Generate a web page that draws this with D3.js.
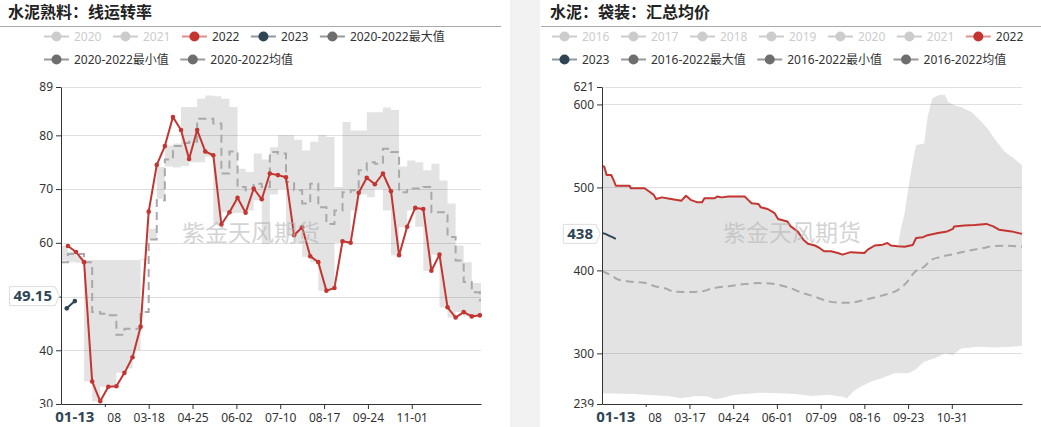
<!DOCTYPE html>
<html><head><meta charset="utf-8">
<script src="https://cdn.jsdelivr.net/npm/d3@7"></script>
<style>
body{margin:0;background:#fff;}
svg{display:block;font-family:"Noto Sans","Noto Sans CJK SC",sans-serif;}
</style></head><body>
<svg id="c" width="1041" height="427"></svg>
<script>
// ---------------- Chart 1: 水泥熟料：线运转率 (weekly) ----------------
const clinkerTitle = "水泥熟料：线运转率";
const clinkerXTicks = ["02-08","03-18","04-25","06-02","07-10","08-17","09-24","11-01"];
const clinkerYTicks = [30,40,50,60,70,80,89];
const clinkerDates = ["01-07","01-14","01-21","01-28","02-04","02-11","02-18","02-25","03-04","03-11","03-18","03-25","04-01","04-08","04-15","04-22","04-29","05-06","05-13","05-20","05-27","06-03","06-10","06-17","06-24","07-01","07-08","07-15","07-22","07-29","08-05","08-12","08-19","08-26","09-02","09-09","09-16","09-23","09-30","10-07","10-14","10-21","10-28","11-04","11-11","11-18","11-25","12-02","12-09","12-16","12-23","12-30"];
const clinker2022 = [59.4,58.3,56.4,34.2,30.5,33.2,33.3,35.8,38.7,44.4,65.8,74.5,78.0,83.4,81.0,75.6,81.0,77.0,76.3,63.4,65.7,68.4,65.6,70.1,68.1,72.9,72.6,72.2,61.4,62.9,57.5,56.4,51.1,51.6,60.3,60.0,69.3,72.1,70.9,72.9,69.6,57.7,63.0,66.5,66.3,54.8,57.8,48.0,46.1,47.1,46.3,46.5];
const clinker2023Dates = ["01-06","01-13"];
const clinker2023 = [47.8,49.15];
const clinkerBandDates = ["01-01"].concat(clinkerDates, ["12-31"]);
const clinkerMax = [59.4,58.4,57.5,56.8,56.8,56.8,56.8,56.8,56.8,56.8,56.8,60.6,68.2,78.1,78.5,85.3,85.3,86.8,87.4,87.3,86.8,85.3,73.8,73.2,76.6,75.5,77.8,80.0,80.0,79.2,77.2,78.8,80.0,79.7,70.4,82.5,80.9,80.9,84.3,84.3,85.2,84.7,74.2,75.3,75.0,73.5,74.7,71.6,67.3,59.5,56.4,52.5,52.5,52.5];
const clinkerMin = [53.2,56.7,56.4,56.3,34.2,30.5,33.2,33.3,35.8,36.6,40.0,57.0,62.6,74.1,74.2,74.0,74.3,75.0,75.0,76.0,63.4,65.7,65.5,65.6,66.0,67.9,59.8,69.0,70.0,61.4,60.0,57.4,56.4,51.1,51.6,60.0,60.0,66.0,69.0,68.5,70.0,66.0,57.7,62.9,66.0,63.0,54.8,57.8,48.0,46.1,47.1,46.3,46.5,46.5];
const clinkerMean = [56.4,57.9,57.9,56.4,47.1,46.8,46.5,42.9,44.0,44.0,47.1,60.6,67.9,75.5,78.0,78.6,78.8,83.1,83.1,82.2,72.9,77.0,70.4,69.8,71.0,70.4,76.9,76.6,71.3,69.8,67.3,71.0,66.6,63.5,66.0,69.4,69.8,73.5,75.0,74.7,77.5,76.9,69.4,70.1,70.1,70.4,65.7,65.7,61.1,56.7,52.7,50.8,49.3,49.3];
const clinkerLegendRows = [["2020","2021","2022","2023","2020-2022最大值"],["2020-2022最小值","2020-2022均值"]];

// ---------------- Chart 2: 水泥：袋装：汇总均价 (daily) ----------------
const bagTitle = "水泥：袋装：汇总均价";
const bagXTicks = ["02-08","03-17","04-24","06-01","07-09","08-16","09-23","10-31"];
const bagYTicks = [239,300,400,500,600,621];
const bag2022Dates = ["01-01","01-03","01-05","01-09","01-11","01-13","01-25","01-26","02-07","02-11","02-15","02-17","02-22","03-01","03-10","03-14","03-18","03-24","03-28","03-30","04-08","04-10","04-14","04-20","05-04","05-07","05-10","05-16","05-18","05-24","05-30","06-02","06-10","06-13","06-19","06-24","06-28","07-04","07-08","07-12","07-18","07-24","07-28","08-04","08-16","08-19","08-25","09-01","09-05","09-08","09-14","09-20","09-27","09-30","10-06","10-09","10-19","10-27","11-01","11-02","11-11","11-20","11-30","12-06","12-11","12-22","12-31"];
const bag2022 = [526,525,515,515,509,502,502,499,499,495,491,486,488,486,484,490,485,482,482,487,487,489,488,489,489,485,481,480,476,474,469,462,459,453,447,437,432,430,427,423,423,421,419,422,421,425,430,431,433,430,429,428.5,430.5,439,440,442,445,447,450,453,454,454.6,456,453,449,447,444];
const bag2023Dates = ["01-01","01-04","01-07","01-10","01-13"];
const bag2023 = [445,444,442,440,438];
// max equals 2022 up to 09-14, then the 2016-2022 max:
const bagMaxSince = "09-14";
const bagMaxTailDates = ["09-17","09-20","09-23","09-26","09-30","10-07","10-10","10-14","10-19","10-25","10-28","11-02","11-08","11-17","11-23","12-01","12-07","12-16","12-22","12-31"];
const bagMaxTail = [452,469,497,523,551,553,585,607,611,612,603,599,597,591,583,571,559,543,537,527];
const bagMinDates = ["01-01","01-28","02-07","02-27","03-10","03-22","04-02","04-08","04-14","04-25","05-19","06-02","06-17","07-01","07-15","07-27","08-01","08-06","08-13","08-22","08-31","09-11","09-23","09-29","10-07","10-16","10-25","11-01","11-08","11-23","12-07","12-22","12-31"];
const bagMin = [252,251,250,248.6,246,248.6,248,244.6,246,250,252.6,252,251,248.6,250,248,245.8,253.8,260,266,270,276,276,280,290,294,300,298,306,308,307,308,309];
const bagMeanDates = ["01-01","01-09","01-15","01-27","02-07","02-16","02-25","03-04","03-16","03-28","04-05","04-20","05-04","05-16","05-30","06-11","06-22","07-04","07-15","07-27","08-04","08-13","08-25","09-05","09-14","09-21","09-29","10-07","10-13","10-22","11-02","11-14","11-26","12-07","12-19","12-31"];
const bagMean = [399,394,389,386.3,385,381,378.3,374.3,374,374.7,378,381,383.5,384.7,383.5,379.5,373.5,368.3,363,361,361,363.5,367.5,371.5,376.3,384.3,398.4,404.4,412.4,416.5,419.7,423.7,426.5,429.3,429.7,428.5];
const bagLegendRows = [["2016","2017","2018","2019","2020","2021","2022"],["2023","2016-2022最大值","2016-2022最小值","2016-2022均值"]];

const pointerDate = "01-13";
const watermark = "紫金天风期货";

// ---------------- helpers ----------------
const C22 = "#c23531", C23 = "#2f4554", CSTAT = "#6e6e6e", COFF = "#ccc";
const pad = n => String(n).padStart(2, "0");
function calendar(leap){const ml=[31,leap?29:28,31,30,31,30,31,31,30,31,30,31];const o=[];ml.forEach((n,m)=>{for(let d=1;d<=n;d++)o.push(pad(m+1)+"-"+pad(d));});return o;}
const zip = (ds, vs) => ds.map((d, i) => ({c: d, v: vs[i]}));
const svg = d3.select("#c");
const FONT = '"Noto Sans","Noto Sans CJK SC",sans-serif';

// panels
svg.append("rect").attr("x",0).attr("y",0).attr("width",1041).attr("height",427).attr("fill","#fff");
svg.append("rect").attr("x",510).attr("y",0).attr("width",30).attr("height",427).attr("fill","#f2f2f2");

function legendColor(name){
  if (/20\d\d-20\d\d/.test(name)) return {c: CSTAT, on: true};
  if (name === "2022") return {c: C22, on: true};
  if (name === "2023") return {c: C23, on: true};
  return {c: COFF, on: false};
}

function drawLegend(rows, x0, ys){
  rows.forEach((row, ri) => {
    let cx = x0; const y = ys[ri];
    row.forEach(name => {
      const lc = legendColor(name);
      const g = svg.append("g");
      g.append("line").attr("x1", cx).attr("x2", cx + 25).attr("y1", y).attr("y2", y)
        .attr("stroke", lc.on ? (lc.c === CSTAT ? "#999" : lc.c) : COFF)
        .attr("stroke-opacity", lc.on && lc.c !== CSTAT ? 0.55 : 1).attr("stroke-width", 2);
      g.append("circle").attr("cx", cx + 12.5).attr("cy", y).attr("r", 5).attr("fill", lc.c);
      const t = g.append("text").attr("x", cx + 30).attr("y", y).attr("dy", "0.35em")
        .attr("font-size", 12).attr("fill", lc.on ? "#333" : COFF).text(name);
      cx += 30 + t.node().getComputedTextLength() + 11.5;
    });
  });
}

function drawPanel(o){
  const x = d3.scalePoint().domain(o.cats).range([o.left, o.right]);
  const y = d3.scaleLinear().domain(o.yDomain).range([o.bottom, o.top]);
  const g = svg.append("g");

  // title + rule
  g.append("text").attr("x", o.titleX).attr("y", 17.5).attr("font-size", 16).attr("font-weight", 700)
    .attr("font-family", '"Noto Sans CJK SC",sans-serif').attr("fill", "#222").text(o.title);
  g.append("line").attr("x1", o.ruleX0).attr("x2", o.ruleX1).attr("y1", 26.5).attr("y2", 26.5).attr("stroke", "#aaa");

  // grid
  g.append("g").selectAll("line").data(o.yTicks.filter(v => v !== o.yDomain[0])).join("line")
    .attr("x1", o.left).attr("x2", o.right)
    .attr("y1", d => Math.round(y(d)) + 0.5).attr("y2", d => Math.round(y(d)) + 0.5)
    .attr("stroke", "#e0e0e0");

  const clipId = "clip" + o.left;
  svg.append("clipPath").attr("id", clipId).append("rect")
    .attr("x", o.left).attr("y", o.top - 2).attr("width", o.right - o.left + 1).attr("height", o.bottom - o.top + 2);
  const p = g.append("g").attr("clip-path", `url(#${clipId})`);

  // band
  const lineFor = curve => d3.line().x(d => x(d.c)).y(d => y(d.v)).curve(curve);
  const top = o.bandTop, bot = o.bandBot;
  const topPath = lineFor(o.bandCurve)(top);
  const botPath = lineFor(o.bandCurve)(bot.slice().reverse());
  p.append("path").attr("d", topPath + "L" + botPath.slice(1) + "Z")
    .attr("fill", "#000").attr("fill-opacity", 0.11).attr("stroke", "none");

  // mean
  p.append("path").attr("d", lineFor(o.meanCurve)(o.mean)).attr("fill", "none")
    .attr("stroke", "#a9a9a9").attr("stroke-width", 2).attr("stroke-dasharray", "8,5");

  // 2022
  p.append("path").attr("d", lineFor(d3.curveLinear)(o.s22)).attr("fill", "none")
    .attr("stroke", C22).attr("stroke-width", 2).attr("stroke-linejoin", "round");
  if (o.markers) p.append("g").selectAll("circle").data(o.s22).join("circle")
    .attr("cx", d => x(d.c)).attr("cy", d => y(d.v)).attr("r", 2.3).attr("fill", C22);

  // 2023
  p.append("path").attr("d", lineFor(d3.curveLinear)(o.s23)).attr("fill", "none")
    .attr("stroke", C23).attr("stroke-width", 2);
  if (o.markers) p.append("g").selectAll("circle").data(o.s23).join("circle")
    .attr("cx", d => x(d.c)).attr("cy", d => y(d.v)).attr("r", 2.3).attr("fill", C23);

  // watermark
  g.append("text").attr("x", o.left + 121).attr("y", 241).attr("font-size", 23)
    .attr("font-family", '"Noto Sans CJK SC",sans-serif')
    .attr("fill", "#b5b5b5").attr("fill-opacity", 0.6).text(watermark);

  // axis pointer geometry (the y label covers any tick label beneath it)
  const yv = o.s23[o.s23.length - 1].v;
  const cy = y(yv) - 5;

  // axes
  const ya = g.append("g").attr("transform", `translate(${o.left},0)`)
    .call(d3.axisLeft(y).tickValues(o.yTicks).tickSize(5).tickPadding(3).tickSizeOuter(0)
      .tickFormat(v => Math.abs(y(v) - cy) < 10 ? "" : String(v)));
  const xa = g.append("g").attr("transform", `translate(0,${o.bottom})`)
    .call(d3.axisBottom(x).tickValues(o.xTicks).tickSize(5).tickPadding(4).tickSizeOuter(0));
  [ya, xa].forEach(a => {
    a.selectAll("path,line").attr("stroke", "#333");
    a.selectAll("text").attr("fill", "#333").attr("font-size", 12).attr("font-family", FONT);
  });

  // axis pointer labels
  const px = x(pointerDate);
  const xl = g.append("g");
  const xt = xl.append("text").attr("x", px).attr("y", 416.5).attr("dy", "0.35em").attr("text-anchor", "middle")
    .attr("font-size", 15).attr("font-weight", 700).attr("fill", C23).text(pointerDate);
  const xw = xt.node().getComputedTextLength();
  xl.insert("rect", "text").attr("x", px - xw / 2 - 13).attr("y", 407).attr("width", xw + 26).attr("height", 19).attr("fill", "#fff");

  const yl = g.append("g");
  const rEdge = o.left - 6;
  const yt = yl.append("text").attr("x", rEdge - 3).attr("y", cy).attr("dy", "0.35em").attr("text-anchor", "end")
    .attr("font-size", 15).attr("font-weight", 700).attr("fill", C23).text(String(yv));
  const yw = yt.node().getComputedTextLength();
  const lEdge = rEdge - 3 - yw - 4;
  yl.insert("path", "text").attr("d",
    `M${lEdge},${cy - 9.5}H${rEdge}L${o.left - 1.7},${cy}L${rEdge},${cy + 9.5}H${lEdge}Z`)
    .attr("fill", "#fff").attr("stroke", "#ddd");
}

// ---------------- render ----------------
const leftCats = calendar(false), rightCats = calendar(true);

drawPanel({
  title: clinkerTitle, titleX: 8, ruleX0: 0, ruleX1: 501,
  cats: leftCats, left: 61, right: 481, top: 87, bottom: 404,
  yDomain: [30, 89], yTicks: clinkerYTicks, xTicks: clinkerXTicks,
  bandTop: zip(clinkerBandDates, clinkerMax), bandBot: zip(clinkerBandDates, clinkerMin),
  bandCurve: d3.curveStepAfter,
  mean: zip(clinkerBandDates, clinkerMean), meanCurve: d3.curveStepAfter,
  s22: zip(clinkerDates, clinker2022), s23: zip(clinker2023Dates, clinker2023), markers: true
});
drawLegend(clinkerLegendRows, 44, [36.5, 59.5]);

const bagTop = zip(bag2022Dates, bag2022).filter(d => d.c <= bagMaxSince).concat(zip(bagMaxTailDates, bagMaxTail));
drawPanel({
  title: bagTitle, titleX: 550, ruleX0: 541, ruleX1: 1041,
  cats: rightCats, left: 602, right: 1022, top: 87, bottom: 404,
  yDomain: [239, 621], yTicks: bagYTicks, xTicks: bagXTicks,
  bandTop: bagTop, bandBot: zip(bagMinDates, bagMin), bandCurve: d3.curveLinear,
  mean: zip(bagMeanDates, bagMean), meanCurve: d3.curveMonotoneX,
  s22: zip(bag2022Dates, bag2022), s23: zip(bag2023Dates, bag2023), markers: false
});
drawLegend(bagLegendRows, 552, [36.5, 59.5]);
</script>
</body></html>
